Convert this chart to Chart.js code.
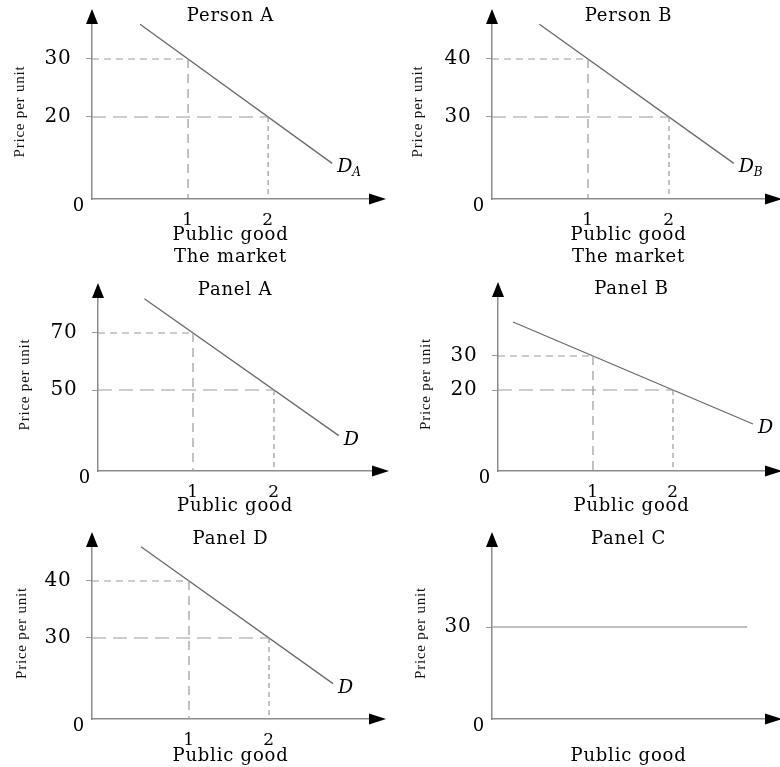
<!DOCTYPE html>
<html>
<head>
<meta charset="utf-8">
<script src="https://cdn.jsdelivr.net/npm/chart.js@4.4.1/dist/chart.umd.min.js"></script>
<style>
  body { margin: 0; background: #fff; }
  #wrap { position: relative; width: 780px; height: 767px; overflow: hidden; background: #fff; }
</style>
</head>
<body>
<div id="wrap"></div>
<script>
// quantities where the dashed guides drop to the axis
const quantities = [1, 2];

// prices read at those quantities
const personAPrices = [30, 20];
const personBPrices = [40, 30];
const panelAPrices = [70, 50];
const panelBPrices = [30, 20];
const panelDPrices = [40, 30];
const panelCPrices = [30];

// demand curve end points
const demandQ = [0.4, 2.8];
const personADemand = [36, 12];
const personBDemand = [46, 22];
const panelADemand = [82, 34];
const panelBDemandQ = [0, 3];
const panelBDemand = [40, 10];
const panelDDemand = [46, 22];
const panelCQ = [0, 3.15];
const panelCLine = [30, 30];

const SERIF = '"DejaVu Serif", serif';
const AXIS = '#8c8c8c';
const GUIDE = '#999999';
const CURVE = '#6a6a6a';

const wrap = document.getElementById('wrap');

// wider lettering, closer to the original typeface
const spacingPlugin = {
  id: 'spacing',
  beforeDraw(chart) { chart.ctx.letterSpacing = '0.8px'; }
};

const arrowPlugin = {
  id: 'axisArrows',
  afterDraw(chart) {
    const { ctx, chartArea: a } = chart;
    ctx.save();
    ctx.fillStyle = '#000';
    ctx.beginPath();
    ctx.moveTo(a.left, a.top - 15);
    ctx.lineTo(a.left - 6, a.top);
    ctx.lineTo(a.left + 6, a.top);
    ctx.closePath();
    ctx.fill();
    ctx.beginPath();
    ctx.moveTo(a.right + 17, a.bottom);
    ctx.lineTo(a.right, a.bottom - 5.5);
    ctx.lineTo(a.right, a.bottom + 5.5);
    ctx.closePath();
    ctx.fill();
    ctx.restore();
  }
};

const curveLabelPlugin = {
  id: 'curveLabel',
  afterDatasetsDraw(chart, args, opts) {
    if (!opts || !opts.text) return;
    const idx = chart.data.datasets.findIndex(d => d.isDemand);
    if (idx < 0) return;
    const pts = chart.getDatasetMeta(idx).data;
    const end = pts[pts.length - 1];
    const { ctx } = chart;
    ctx.save();
    ctx.fillStyle = '#000';
    ctx.textBaseline = 'middle';
    ctx.textAlign = 'left';
    ctx.font = 'italic 19px ' + SERIF;
    const x = end.x + 5, y = end.y + 4;
    ctx.fillText(opts.text, x, y);
    if (opts.sub) {
      const w = ctx.measureText(opts.text).width;
      ctx.font = 'italic 12px ' + SERIF;
      ctx.fillText(opts.sub, x + w - 1, y + 5);
    }
    ctx.restore();
  }
};

function dashed(points, dash) {
  return {
    data: points, borderColor: GUIDE, borderWidth: 1.2, borderDash: dash,
    pointRadius: 0, clip: false, tension: 0
  };
}

function guideSets(prices, xMin, yMin) {
  const sets = [];
  prices.forEach((p, i) => {
    const q = quantities[i];
    sets.push(dashed([{ x: xMin, y: p }, { x: q, y: p }], i === 0 ? [7, 5] : [14, 7]));
    sets.push(dashed([{ x: q, y: p }, { x: q, y: yMin }], i === 0 ? [9, 6] : [5, 4]));
  });
  return sets;
}

function curveSet(qs, ps, color) {
  return {
    isDemand: true,
    data: qs.map((q, i) => ({ x: q, y: ps[i] })),
    borderColor: color || CURVE, borderWidth: 1.3, pointRadius: 0, clip: false, tension: 0
  };
}

function makePanel(cfg) {
  const [left, top, w, h] = cfg.box;
  const canvas = document.createElement('canvas');
  canvas.width = w;
  canvas.height = h;
  canvas.style.cssText = `position:absolute;left:${left}px;top:${top}px;width:${w}px;height:${h}px`;
  wrap.appendChild(canvas);

  const [xMin, xMax] = cfg.x;
  const [yMin, yMax] = cfg.y;
  const datasets = cfg.guides ? guideSets(cfg.prices, xMin, yMin) : [];
  datasets.push(curveSet(cfg.curveQ, cfg.curveP, cfg.curveColor));

  new Chart(canvas, {
    type: 'line',
    data: { datasets },
    options: {
      responsive: false,
      animation: false,
      devicePixelRatio: 1,
      layout: { padding: { left: 0, top: 0, bottom: 0, right: w - cfg.right } },
      plugins: {
        legend: { display: false },
        tooltip: { enabled: false },
        title: {
          display: true, text: cfg.title, fullSize: false, color: '#000',
          font: { family: SERIF, size: 18, weight: 'normal', lineHeight: 16 / 18 },
          padding: { top: cfg.titleTop, bottom: 0 }
        },
        curveLabel: { text: cfg.label, sub: cfg.sub }
      },
      scales: {
        x: {
          type: 'linear', min: xMin, max: xMax,
          afterFit: s => { s.height = h - cfg.axisY; },
          afterBuildTicks: s => { if (cfg.guides) s.ticks = quantities.map(v => ({ value: v })); },
          grid: { display: false },
          border: { display: true, color: AXIS, width: 1.5 },
          ticks: {
            display: !!cfg.guides, color: '#000', padding: 3,
            font: { family: SERIF, size: 17 }, callback: v => String(v)
          },
          title: {
            display: true, text: cfg.xTitle, color: '#000',
            font: { family: SERIF, size: 18, lineHeight: 22 / 18 },
            padding: { top: 0, bottom: cfg.xTitlePad }
          }
        },
        y: {
          type: 'linear', min: yMin, max: yMax,
          afterFit: s => { s.width = cfg.axisX; },
          afterBuildTicks: s => { s.ticks = [yMin].concat(cfg.prices.slice().sort((a, b) => a - b)).map(v => ({ value: v })); },
          grid: {
            display: true, drawOnChartArea: false, drawTicks: true, tickLength: 6,
            color: ctx => ctx.index === 0 ? 'rgba(0,0,0,0)' : GUIDE,
            tickColor: ctx => ctx.index === 0 ? 'rgba(0,0,0,0)' : GUIDE
          },
          border: { display: true, color: AXIS, width: 1.5 },
          ticks: {
            color: '#000', padding: 1,
            font: ctx => ctx.index === 0
              ? { family: SERIF, size: 18, lineHeight: 0.78 }
              : { family: SERIF, size: 20 },
            callback: (v, i) => i === 0 ? ['', '0'] : v + '\u2007'
          },
          title: {
            display: true, text: 'Price per unit', color: '#111',
            font: { family: '"Liberation Serif", serif', size: 15, lineHeight: 1.2 },
            padding: { top: cfg.yTitlePad, bottom: 0 }
          }
        }
      }
    },
    plugins: [spacingPlugin, arrowPlugin, curveLabelPlugin]
  });
}

const panels = [
  { title: 'Person A', box: [0, 0, 390, 268], axisX: 92, axisY: 199, right: 369, titleTop: 8,
    x: [-0.2, 3.26], y: [5.86, 36.03], prices: personAPrices, guides: true,
    curveQ: demandQ, curveP: personADemand, label: 'D', sub: 'A',
    xTitle: ['Public good', 'The market'], xTitlePad: 0, yTitlePad: 11 },
  { title: 'Person B', box: [390, 0, 390, 268], axisX: 102, axisY: 199, right: 375, titleTop: 8,
    x: [-0.185, 3.185], y: [15.86, 46.03], prices: personBPrices, guides: true,
    curveQ: demandQ, curveP: personBDemand, label: 'D', sub: 'B',
    xTitle: ['Public good', 'The market'], xTitlePad: 0, yTitlePad: 19 },
  { title: 'Panel A', box: [0, 268, 390, 252], axisX: 98, axisY: 203, right: 372, titleTop: 14,
    x: [-0.173, 3.21], y: [21.58, 82.28], prices: panelAPrices, guides: true,
    curveQ: demandQ, curveP: panelADemand, label: 'D',
    xTitle: 'Public good', xTitlePad: 3, yTitlePad: 16 },
  { title: 'Panel B', box: [390, 268, 390, 252], axisX: 108, axisY: 203, right: 375, titleTop: 13,
    x: [-0.1875, 3.15], y: [-3.82, 47.35], prices: panelBPrices, guides: true,
    curveQ: panelBDemandQ, curveP: panelBDemand, label: 'D',
    xTitle: 'Public good', xTitlePad: 3, yTitlePad: 27 },
  { title: 'Panel D', box: [0, 512, 390, 255], axisX: 92, axisY: 207, right: 369, titleTop: 19,
    x: [-0.2125, 3.25], y: [15.79, 45.96], prices: panelDPrices, guides: true,
    curveQ: demandQ, curveP: panelDDemand, label: 'D',
    xTitle: 'Public good', xTitlePad: 0, yTitlePad: 13 },
  { title: 'Panel C', box: [390, 512, 390, 255], axisX: 102, axisY: 207, right: 375, titleTop: 19,
    x: [0, 3.37], y: [0, 56.1], prices: panelCPrices, guides: false,
    curveQ: panelCQ, curveP: panelCLine, curveColor: '#aaaaaa',
    xTitle: 'Public good', xTitlePad: 0, yTitlePad: 22 }
];

panels.forEach(makePanel);
</script>
</body>
</html>
